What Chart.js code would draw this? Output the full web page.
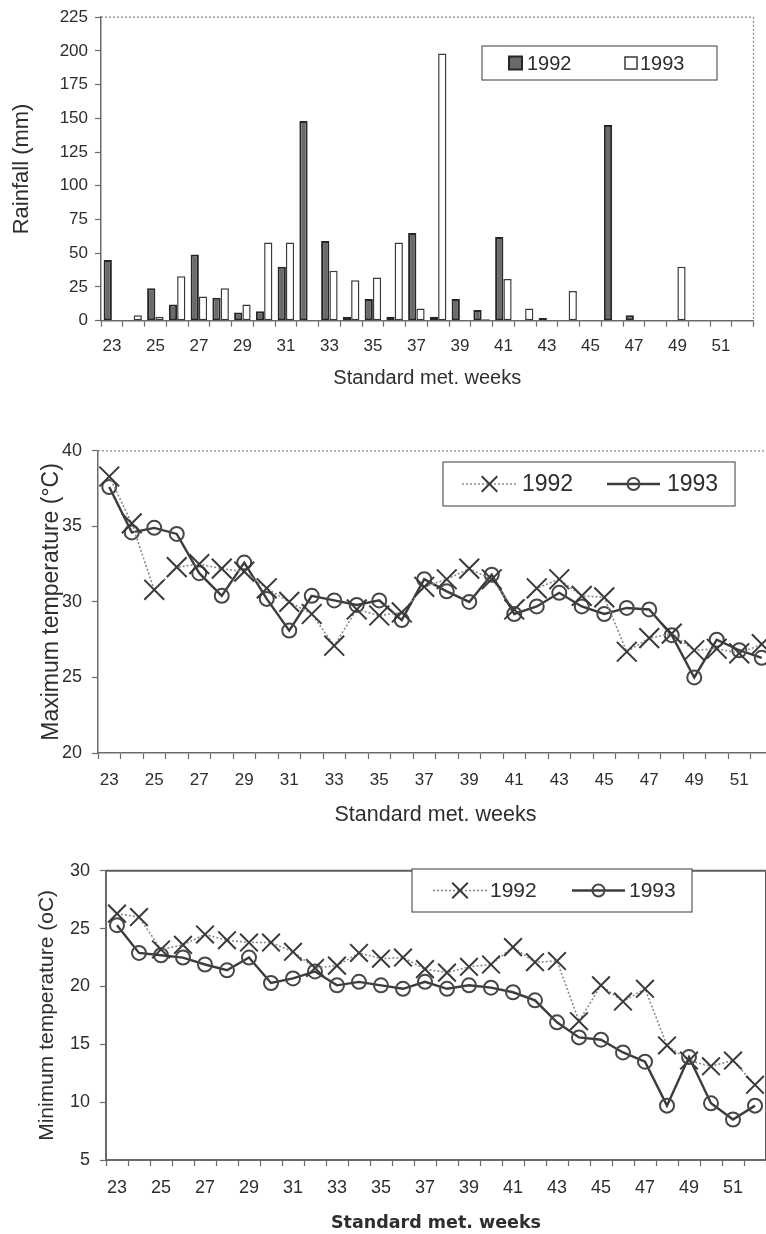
<!DOCTYPE html>
<html>
<head>
<meta charset="utf-8">
<title>Rainfall and temperature by standard week, 1992 and 1993</title>
<script src="https://cdn.jsdelivr.net/npm/chart.js@4.4.1/dist/chart.umd.min.js"></script>
<style>
  html, body { margin: 0; padding: 0; background: #fff; }
  body { width: 766px; height: 1234px; overflow: hidden; position: relative; }
  canvas { position: absolute; left: 0; }
</style>
</head>
<body>
<canvas id="rainChart" width="766" height="400" style="top:0px"></canvas>
<canvas id="maxChart" width="780" height="400" style="top:430px"></canvas>
<canvas id="minChart" width="772" height="400" style="top:850px"></canvas>
<script>
// standard meteorological weeks
const weeks = ['23', '24', '25', '26', '27', '28', '29', '30', '31', '32',
               '33', '34', '35', '36', '37', '38', '39', '40', '41', '42',
               '43', '44', '45', '46', '47', '48', '49', '50', '51', '52'];

// weekly rainfall (mm)
const rain1992 = [45, 0, 24, 12, 49, 17, 6, 7, 40, 148, 59, 3, 16, 3, 65,
                  3, 16, 8, 62, 0, 2, 0, 0, 145, 4, 0, 0, 0, 0, 0];
const rain1993 = [0, 4, 3, 33, 18, 24, 12, 58, 58, 0, 37, 30, 32, 58, 9,
                  198, 0, 1, 31, 9, 0, 22, 0, 0, 0, 0, 40, 0, 0, 0];

// weekly maximum temperature (deg C)
const tmax1992 = [38.3, 35.2, 30.8, 32.3, 32.5, 32.2, 32.0, 30.9, 30.0, 29.2,
                  27.1, 29.5, 29.1, 29.3, 31.0, 31.5, 32.2, 31.5, 29.5, 30.9,
                  31.5, 30.4, 30.3, 26.7, 27.6, 27.9, 26.8, 26.9, 26.6, 27.2];
const tmax1993 = [37.6, 34.6, 34.9, 34.5, 31.9, 30.4, 32.6, 30.2, 28.1, 30.4,
                  30.1, 29.8, 30.1, 28.8, 31.5, 30.7, 30.0, 31.8, 29.2, 29.7,
                  30.6, 29.7, 29.2, 29.6, 29.5, 27.8, 25.0, 27.5, 26.8, 26.3];

// weekly minimum temperature (deg C)
const tmin1992 = [26.3, 26.0, 23.2, 23.6, 24.5, 24.0, 23.8, 23.8, 23.0, 21.6,
                  21.8, 22.9, 22.4, 22.5, 21.5, 21.2, 21.7, 21.9, 23.4, 22.1,
                  22.2, 17.0, 20.1, 18.7, 19.8, 14.9, 13.6, 13.1, 13.6, 11.5];
const tmin1993 = [25.3, 22.9, 22.7, 22.5, 21.9, 21.4, 22.5, 20.3, 20.7, 21.3,
                  20.1, 20.4, 20.1, 19.8, 20.4, 19.8, 20.1, 19.9, 19.5, 18.8,
                  16.9, 15.6, 15.4, 14.3, 13.5, 9.7, 13.9, 9.9, 8.5, 9.7];

const FONT = "'Liberation Sans', Arial, Helvetica, sans-serif";
const AXIS = '#6a6a6a';
const TEXT = '#2e2e2e';

// top/right frame of the plot area
const frame = {
  id: 'frame',
  beforeDatasetsDraw(chart, args, o) {
    const { ctx, chartArea: a } = chart;
    ctx.save();
    ctx.strokeStyle = o.color;
    ctx.lineWidth = o.width;
    ctx.setLineDash(o.dash || []);
    ctx.beginPath();
    ctx.moveTo(a.left, a.top);
    ctx.lineTo(a.right, a.top);
    ctx.lineTo(a.right, a.bottom);
    ctx.stroke();
    ctx.restore();
  }
};

// boxed legend inside the plot
const boxLegend = {
  id: 'boxLegend',
  afterDraw(chart, args, o) {
    const ctx = chart.ctx;
    const cy = o.y + o.h / 2;
    ctx.save();
    ctx.fillStyle = '#fff';
    ctx.fillRect(o.x, o.y, o.w, o.h);
    ctx.strokeStyle = '#5a5a5a';
    ctx.lineWidth = 1.2;
    ctx.strokeRect(o.x, o.y, o.w, o.h);
    chart.data.datasets.forEach((ds, i) => {
      const it = o.items[i];
      if (chart.config.type === 'bar') {
        ctx.fillStyle = ds.backgroundColor;
        ctx.strokeStyle = ds.borderColor;
        ctx.lineWidth = ds.borderWidth;
        ctx.fillRect(it.mark, cy - it.size / 2, it.size, it.size);
        ctx.strokeRect(it.mark, cy - it.size / 2, it.size, it.size);
      } else {
        ctx.strokeStyle = ds.borderColor;
        ctx.lineWidth = ds.borderWidth;
        ctx.setLineDash(ds.borderDash || []);
        ctx.beginPath();
        ctx.moveTo(it.mark, cy);
        ctx.lineTo(it.mark + it.len, cy);
        ctx.stroke();
        ctx.setLineDash([]);
        ctx.strokeStyle = ds.pointBorderColor;
        ctx.fillStyle = 'rgba(0,0,0,0)';
        ctx.lineWidth = ds.pointBorderWidth;
        Chart.helpers.drawPoint(ctx, {
          pointStyle: ds.pointStyle, rotation: 0, radius: it.r, borderWidth: ds.pointBorderWidth
        }, it.mark + it.len / 2, cy);
      }
      ctx.fillStyle = TEXT;
      ctx.font = o.font;
      ctx.textAlign = 'left';
      ctx.textBaseline = 'middle';
      ctx.fillText(ds.label, it.text, cy + 1);
    });
    ctx.restore();
  }
};

function weekAxis(opts) {
  return {
    type: 'category',
    offset: true,
    border: { color: AXIS, width: opts.axisWidth || 1.5 },
    grid: { offset: true, drawOnChartArea: false, tickLength: 6, color: AXIS, tickWidth: 1.2 },
    ticks: {
      autoSkip: false, maxRotation: 0, minRotation: 0,
      padding: opts.pad, color: TEXT,
      font: { family: FONT, size: opts.tickSize },
      callback: (v, i) => (Number(weeks[i]) % 2 ? weeks[i] : '')
    },
    title: {
      display: true, text: 'Standard met. weeks', color: TEXT,
      font: opts.titleFont,
      padding: { top: 0, bottom: opts.titlePad }
    },
    afterFit: s => { s.height = opts.height; }
  };
}

function valueAxis(opts) {
  return {
    min: opts.min, max: opts.max,
    border: { color: AXIS, width: opts.axisWidth || 1.5 },
    grid: { drawOnChartArea: false, tickLength: 6, color: AXIS, tickWidth: 1.2 },
    ticks: {
      stepSize: opts.step, padding: opts.pad, color: TEXT,
      font: { family: FONT, size: opts.tickSize }
    },
    title: {
      display: true, text: opts.title, color: TEXT,
      font: opts.titleFont,
      padding: { top: opts.titlePad, bottom: 0 }
    },
    afterFit: s => { s.width = opts.width; }
  };
}

function lineSets(a, b, crossR) {
  return [{
    label: '1992', data: a,
    borderColor: '#8a8a8a', borderWidth: 1.6, borderDash: [2, 2],
    pointStyle: 'crossRot', pointRadius: crossR, pointHoverRadius: crossR,
    pointBorderColor: '#3a3a3a', pointBorderWidth: 2, pointBackgroundColor: 'rgba(0,0,0,0)',
    tension: 0
  }, {
    label: '1993', data: b,
    borderColor: '#3c3c3c', borderWidth: 2.4,
    pointStyle: 'circle', pointRadius: 7, pointHoverRadius: 7,
    pointBorderColor: '#474747', pointBorderWidth: 2, pointBackgroundColor: 'rgba(0,0,0,0)',
    tension: 0
  }];
}

new Chart(document.getElementById('rainChart'), {
  type: 'bar',
  data: {
    labels: weeks,
    datasets: [{
      label: '1992', data: rain1992,
      backgroundColor: '#6a6a6a', borderColor: '#262626', borderWidth: 2,
      borderSkipped: false, categoryPercentage: 0.76, barPercentage: 1
    }, {
      label: '1993', data: rain1993,
      backgroundColor: '#ffffff', borderColor: '#3a3a3a', borderWidth: 1.5,
      borderSkipped: false, categoryPercentage: 0.76, barPercentage: 1
    }]
  },
  options: {
    responsive: false,
    animation: false,
    layout: { autoPadding: false, padding: { left: 0, top: 15.7, right: 12.5, bottom: 0 } },
    plugins: {
      legend: { display: false },
      tooltip: { enabled: false },
      frame: { color: '#8a8a8a', width: 1.3, dash: [2, 2] },
      boxLegend: {
        x: 482, y: 46, w: 235, h: 34, font: '20px ' + FONT,
        items: [{ mark: 509, size: 13, text: 527 }, { mark: 625, size: 12, text: 640 }]
      }
    },
    scales: {
      x: weekAxis({ tickSize: 17, pad: 9.6, height: 79.3, titlePad: 10,
                    titleFont: { family: FONT, size: 20 } }),
      y: valueAxis({ min: 0, max: 225, step: 25, tickSize: 17, pad: 7, width: 101,
                     title: 'Rainfall (mm)', titlePad: 8.8,
                     titleFont: { family: FONT, size: 22 } })
    }
  },
  plugins: [frame, boxLegend]
});

new Chart(document.getElementById('maxChart'), {
  type: 'line',
  data: { labels: weeks, datasets: lineSets(tmax1992, tmax1993, 14) },
  options: {
    responsive: false,
    animation: false,
    layout: { autoPadding: false, padding: { left: 0, top: 17, right: 7, bottom: 0 } },
    plugins: {
      legend: { display: false },
      tooltip: { enabled: false },
      frame: { color: '#8a8a8a', width: 1.3, dash: [2, 2] },
      boxLegend: {
        x: 443, y: 32, w: 292, h: 44, font: '23px ' + FONT,
        items: [{ mark: 462, len: 55, r: 11, text: 522 }, { mark: 607, len: 53, r: 6, text: 667 }]
      }
    },
    scales: {
      x: weekAxis({ tickSize: 17, pad: 10.8, height: 77, titlePad: 2.4,
                    titleFont: { family: FONT, size: 21.5 } }),
      y: valueAxis({ min: 20, max: 40, step: 5, tickSize: 18, pad: 10, width: 98,
                     title: 'Maximum temperature (°C)', titlePad: 37.7,
                     titleFont: { family: FONT, size: 23 } })
    }
  },
  plugins: [frame, boxLegend]
});

new Chart(document.getElementById('minChart'), {
  type: 'line',
  data: { labels: weeks, datasets: lineSets(tmin1992, tmin1993, 12.5) },
  options: {
    responsive: false,
    animation: false,
    layout: { autoPadding: false, padding: { left: 0, top: 14, right: 6, bottom: 0 } },
    plugins: {
      legend: { display: false },
      tooltip: { enabled: false },
      frame: { color: '#5e5e5e', width: 2, dash: [] },
      boxLegend: {
        x: 412, y: 19, w: 280, h: 43, font: '21px ' + FONT,
        items: [{ mark: 433, len: 54, r: 11, text: 490 }, { mark: 572, len: 53, r: 6, text: 629 }]
      }
    },
    scales: {
      x: weekAxis({ tickSize: 18, pad: 10.8, height: 90, titlePad: 15.6, axisWidth: 2,
                    titleFont: { family: "'DejaVu Sans', Verdana, sans-serif", size: 17.5, weight: 'bold' } }),
      y: valueAxis({ min: 5, max: 30, step: 5, tickSize: 18, pad: 10, width: 106, axisWidth: 2,
                     title: 'Minimum temperature (oC)', titlePad: 34.4,
                     titleFont: { family: FONT, size: 21 } })
    }
  },
  plugins: [frame, boxLegend]
});
</script>
</body>
</html>
